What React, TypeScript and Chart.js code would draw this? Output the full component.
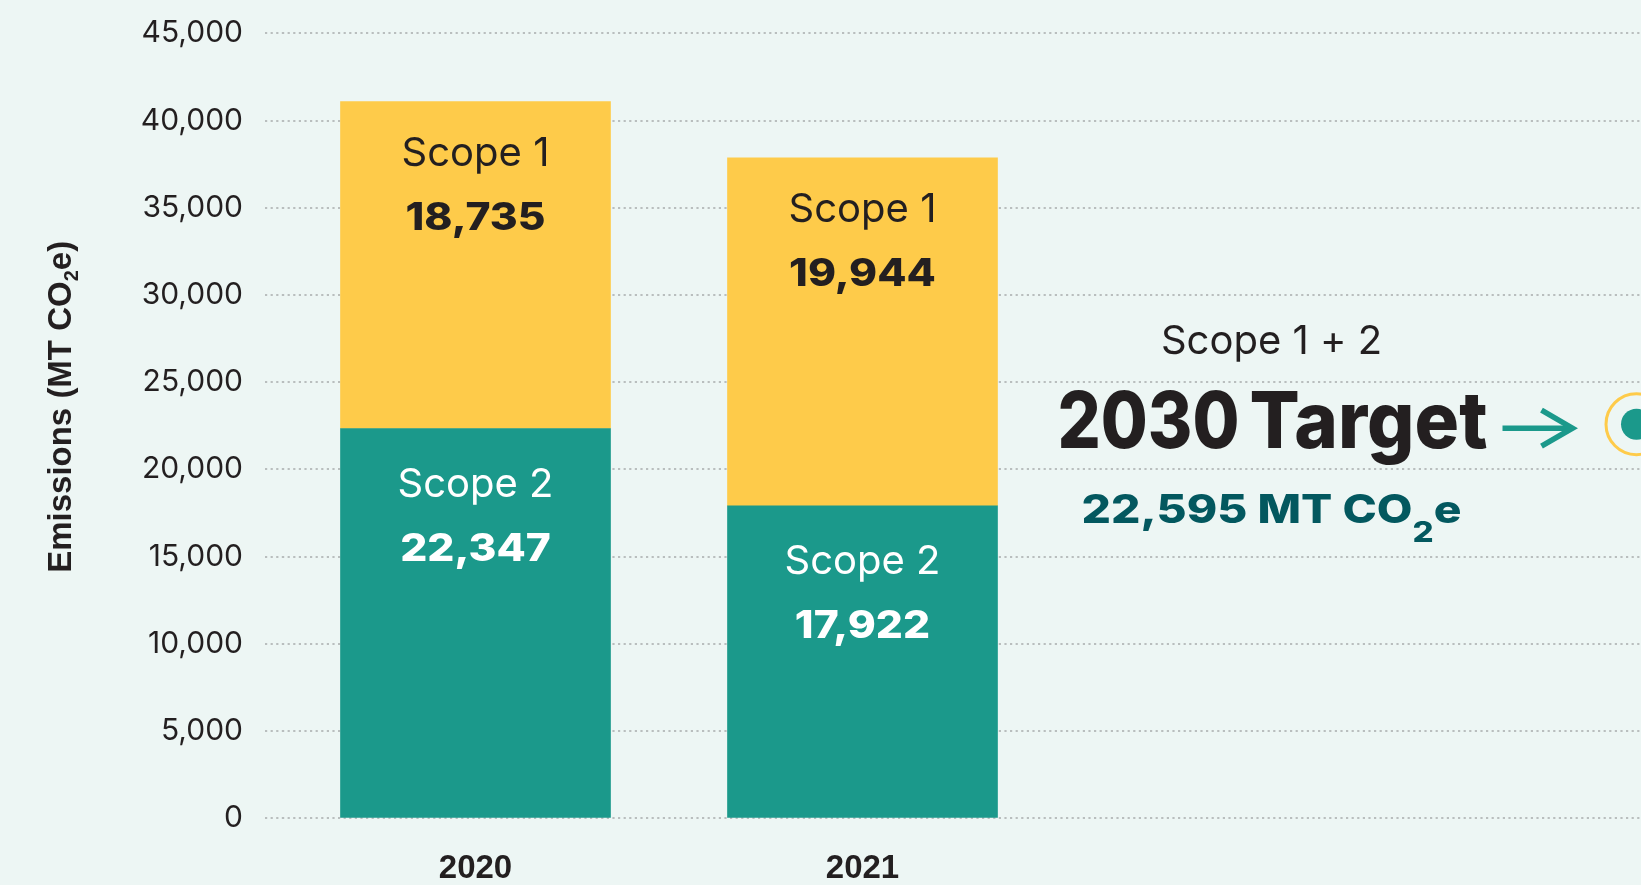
import { useEffect, useRef } from 'react';
import { Chart, registerables } from 'chart.js';

Chart.register(...registerables);

// ---- data ----
const years = ['2020', '2021', '', ''];
const scope2Values = [22347, 17922, null, null];
const scope1Values = [18735, 19944, null, null];
const targetValues = [null, null, null, 22595];
const seriesNames = ['Scope 2', 'Scope 1'];
const yMin = 0;
const yMax = 45000;
const yStep = 5000;
const targetCaption = 'Scope 1 + 2';
const targetHeading = ['2030', 'Target'];
const targetUnit = ['MT CO', '2', 'e'];
const yTitleParts = ['Emissions (MT CO', '2', 'e)'];

// ---- styles ----
const BG = '#edf6f4';
const YELLOW = '#fecb4a';
const TEAL = '#1b998b';
const DARK = '#231f20';
const DEEP = '#03585f';
const GRID = '#b9bebe';
const FONT = 'Inter, "Noto Sans", sans-serif';
const HELV = '"Liberation Sans", Arial, sans-serif';

const fmt = (v: number) => v.toLocaleString('en-US');

function fillScaled(
  ctx: CanvasRenderingContext2D,
  text: string,
  x: number,
  y: number,
  sx: number,
) {
  ctx.save();
  ctx.translate(x, y);
  ctx.scale(sx, 1);
  ctx.fillText(text, 0, 0);
  ctx.restore();
}

const annotations = {
  id: 'annotations',
  afterDatasetsDraw(chart: any) {
    const ctx: CanvasRenderingContext2D = chart.ctx;
    ctx.save();
    ctx.textAlign = 'center';
    ctx.textBaseline = 'alphabetic';

    // bar labels
    const nameOffset = [68, 64];
    [0, 1].forEach((di) => {
      const meta = chart.getDatasetMeta(di);
      meta.data.forEach((el: any, i: number) => {
        const v = chart.data.datasets[di].data[i];
        if (v == null) return;
        const { x, y } = el.getProps(['x', 'y'], true);
        ctx.fillStyle = di === 0 ? '#ffffff' : DARK;
        ctx.font = `400 40px ${FONT}`;
        ctx.fillText(seriesNames[di], x, y + nameOffset[di]);
        ctx.font = `800 38px ${FONT}`;
        fillScaled(ctx, fmt(v), x, y + nameOffset[di] + 64, 1.12);
      });
    });

    // target annotation
    const tMeta = chart.getDatasetMeta(2);
    const idx = targetValues.findIndex((v) => v != null);
    const pt = tMeta.data[idx];
    if (pt) {
      const { x: tx, y: ty } = pt.getProps(['x', 'y'], true);
      const cx = tx - 365;
      ctx.fillStyle = DARK;
      ctx.font = `400 40px ${FONT}`;
      ctx.fillText(targetCaption, cx, ty - 70, 222);

      // heading
      ctx.font = `800 78px ${FONT}`;
      ctx.textAlign = 'left';
      const hx = cx - 214;
      ctx.fillText(targetHeading[0], hx, ty + 24, 182);
      ctx.fillText(targetHeading[1], hx + 192, ty + 24, 238);

      // value line (wide bold)
      const val = targetValues[idx] as number;
      const main = `${fmt(val)} ${targetUnit[0]}`;
      ctx.fillStyle = DEEP;
      ctx.font = `800 39px ${FONT}`;
      const w1 = ctx.measureText(main).width;
      const w3 = ctx.measureText(targetUnit[2]).width;
      ctx.font = `800 28px ${FONT}`;
      const w2 = ctx.measureText(targetUnit[1]).width;
      const total = w1 + w2 + w3;
      const targetW = 380;
      const sx = targetW / total;
      const by = ty + 99;
      ctx.save();
      ctx.translate(cx - targetW / 2, by);
      ctx.scale(sx, 1);
      ctx.font = `800 39px ${FONT}`;
      ctx.fillText(main, 0, 0);
      ctx.font = `800 28px ${FONT}`;
      ctx.fillText(targetUnit[1], w1, 19);
      ctx.font = `800 39px ${FONT}`;
      ctx.fillText(targetUnit[2], w1 + w2, 0);
      ctx.restore();

      // arrow
      ctx.strokeStyle = TEAL;
      ctx.lineWidth = 5.5;
      ctx.lineCap = 'butt';
      ctx.lineJoin = 'miter';
      const ay = ty + 4;
      ctx.beginPath();
      ctx.moveTo(tx - 134, ay);
      ctx.lineTo(tx - 66, ay);
      ctx.stroke();
      ctx.beginPath();
      ctx.moveTo(tx - 95, ay - 18);
      ctx.lineTo(tx - 64, ay);
      ctx.lineTo(tx - 95, ay + 18);
      ctx.stroke();
    }

    // y-axis title with subscript
    const area = chart.chartArea;
    ctx.translate(area.left - 220, (area.top + area.bottom) / 2 - 19);
    ctx.rotate(-Math.PI / 2);
    ctx.fillStyle = DARK;
    ctx.textAlign = 'left';
    ctx.textBaseline = 'middle';
    ctx.font = `700 33px ${HELV}`;
    const a = ctx.measureText(yTitleParts[0]).width;
    const c = ctx.measureText(yTitleParts[2]).width;
    ctx.font = `700 20px ${HELV}`;
    const b = ctx.measureText(yTitleParts[1]).width;
    let px = -(a + b + c) / 2;
    ctx.font = `700 33px ${HELV}`;
    ctx.fillText(yTitleParts[0], px, 0);
    px += a;
    ctx.font = `700 20px ${HELV}`;
    ctx.fillText(yTitleParts[1], px, 10);
    px += b;
    ctx.font = `700 33px ${HELV}`;
    ctx.fillText(yTitleParts[2], px, 0);

    ctx.restore();
  },
};

export default function App() {
  const ref = useRef<HTMLCanvasElement | null>(null);

  useEffect(() => {
    if (!ref.current) return;
    const chart = new Chart(ref.current, {
      type: 'bar',
      data: {
        labels: years,
        datasets: [
          {
            type: 'bar',
            label: seriesNames[0],
            data: scope2Values as any,
            backgroundColor: TEAL,
            borderWidth: 0,
            barThickness: 270,
            stack: 'bars',
          },
          {
            type: 'bar',
            label: seriesNames[1],
            data: scope1Values as any,
            backgroundColor: YELLOW,
            borderWidth: 0,
            barThickness: 270,
            stack: 'bars',
          },
          {
            type: 'line',
            label: 'Target',
            data: targetValues as any,
            showLine: false,
            pointRadius: 15.5,
            pointHoverRadius: 15.5,
            pointBorderWidth: 0,
            pointBackgroundColor: TEAL,
            stack: 'dot',
          } as any,
          {
            type: 'line',
            label: 'Target ring',
            data: targetValues as any,
            showLine: false,
            pointRadius: 30.5,
            pointHoverRadius: 30.5,
            pointBorderWidth: 3,
            pointBorderColor: YELLOW,
            pointBackgroundColor: BG,
            stack: 'ring',
          } as any,
        ],
      },
      options: {
        animation: false,
        responsive: true,
        maintainAspectRatio: false,
        events: [],
        layout: {
          autoPadding: false,
          padding: { top: 33.3, left: 0, right: 0, bottom: 0 },
        } as any,
        plugins: {
          legend: { display: false },
          tooltip: { enabled: false },
        },
        scales: {
          x: {
            stacked: true,
            offset: true,
            grid: { display: false, drawTicks: false },
            border: { display: false },
            ticks: {
              color: DARK,
              font: { family: HELV, size: 33, weight: 700 as any },
              padding: 31,
            },
            afterFit: (s: any) => {
              s.height = 66.6;
              s.paddingLeft = 0;
              s.paddingRight = 0;
            },
          },
          y: {
            stacked: true,
            min: yMin,
            max: yMax,
            border: { display: false, dash: [2.2, 3.4] } as any,
            grid: {
              color: GRID,
              lineWidth: 2,
              drawTicks: true,
              tickLength: 17,
              tickColor: GRID,
              tickWidth: 2,
              tickBorderDash: [2.2, 3.4],
            } as any,
            ticks: {
              stepSize: yStep,
              color: DARK,
              padding: 22,
              font: { family: FONT, size: 30, weight: 400 as any },
              callback: (v: any) => fmt(Number(v)),
            },
            afterFit: (s: any) => {
              s.width = 282;
              s.paddingTop = 0;
              s.paddingBottom = 0;
            },
          },
        },
      },
      plugins: [annotations],
    });
    return () => chart.destroy();
  }, []);

  return (
    <div
      style={{
        position: 'fixed',
        left: 0,
        top: 0,
        width: 1641,
        height: 885,
        overflow: 'hidden',
        background: BG,
      }}
    >
      <div style={{ position: 'relative', width: 1830, height: 885 }}>
        <canvas ref={ref} />
      </div>
    </div>
  );
}
